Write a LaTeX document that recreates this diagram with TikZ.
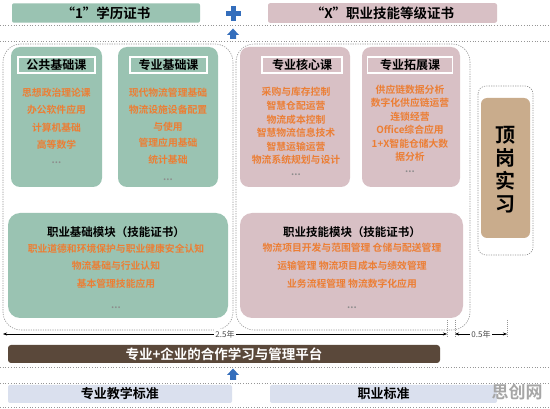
\documentclass[tikz,border=0pt]{standalone}
\usepackage{fontspec}
\setmainfont{Noto Sans CJK SC}
\newfontfamily\cjkb{Noto Sans CJK SC Bold}
\usetikzlibrary{arrows.meta}
\definecolor{sage}{RGB}{154,195,178}
\definecolor{rose}{RGB}{216,192,197}
\definecolor{tan}{RGB}{201,172,140}
\definecolor{brownbar}{RGB}{90,72,58}
\definecolor{paleblue}{RGB}{218,224,238}
\definecolor{orangetxt}{RGB}{236,126,52}
\definecolor{bluearr}{RGB}{52,110,188}
\definecolor{dotgray}{RGB}{150,150,150}
\tikzset{
  px/.style={x=1pt,y=-1pt},
  greenbox/.style={fill=sage, rounded corners=9pt, draw=none},
  pinkbox/.style={fill=rose, rounded corners=9pt, draw=none},
  topbar/.style={rounded corners=2pt, draw=none, font=\cjkb\fontsize{13.5}{14}\selectfont},
  hdr/.style={draw=white, line width=1.2pt, font=\cjkb\fontsize{12}{13}\selectfont, inner sep=0pt},
  crs/.style={text=orangetxt, font=\cjkb\fontsize{9.8}{10}\selectfont, inner sep=0pt},
  modtitle/.style={font=\cjkb\fontsize{11.5}{12}\selectfont, inner sep=0pt},
  dotline/.style={draw=dotgray, dotted, line width=0.7pt},
  region/.style={draw=dotgray, dashed, dash pattern=on 1.2pt off 1.2pt, line width=0.6pt, rounded corners=18pt},
  dimarrow/.style={{Stealth[length=4pt,width=3pt]}-{Stealth[length=4pt,width=3pt]}, line width=0.5pt},
  uparrow/.style={fill=bluearr, draw=none},
}
\begin{document}
\begin{tikzpicture}[px]
\useasboundingbox (0,0) rectangle (550,409);
\fill[white] (0,0) rectangle (550,409);

% top bars
\node[topbar, fill=sage, minimum width=188pt, minimum height=16pt] (one) at (106,13) {“1”学历证书};
\node[topbar, fill=rose, minimum width=229pt, minimum height=16pt] (xcert) at (382.5,13) {“X”职业技能等级证书};
\fill[bluearr] (230.5,6) rectangle (235.5,21);
\fill[bluearr] (225.5,11) rectangle (240.5,16);
\draw[dotline] (0,25) -- (550,25);
\fill[uparrow] (227,35) -- (233,28.5) -- (239,35) -- (236,35) -- (236,39) -- (230,39) -- (230,35) -- cycle;
\draw[dotline] (0,41) -- (550,41);

% dashed regions
\draw[region] (3,44) rectangle (233,330);
\draw[region] (236,44) rectangle (470,330);
\draw[region, rounded corners=8pt] (478,86) rectangle (533,255);

% course boxes
\fill[greenbox] (11,47) rectangle (102,187);
\fill[greenbox] (118,47) rectangle (218,187);
\fill[pinkbox] (240,47) rectangle (350,187);
\fill[pinkbox] (362,47) rectangle (460,187);

\node[hdr, minimum width=77pt, minimum height=16pt] (h1) at (56.5,65) {公共基础课};
\node[hdr, minimum width=77pt, minimum height=16pt] (h2) at (168.5,65) {专业基础课};
\node[hdr, minimum width=80pt, minimum height=16pt] (h3) at (302,65) {专业核心课};
\node[hdr, minimum width=85pt, minimum height=16pt] (h4) at (410,65) {专业拓展课};

\node[crs] (c11) at (56.5,93) {思想政治理论课};
\node[crs] (c12) at (56.5,110) {办公软件应用};
\node[crs] (c13) at (56.5,128) {计算机基础};
\node[crs] (c14) at (56.5,145) {高等数学};
\node[crs, text=black!45] (c15) at (56.5,163) {...};

\node[crs] (c21) at (168,93) {现代物流管理基础};
\node[crs] (c22) at (168,110) {物流设施设备配置};
\node[crs] (c23) at (168,127) {与使用};
\node[crs] (c24) at (168,143) {管理应用基础};
\node[crs] (c25) at (168,160) {统计基础};
\node[crs, text=black!45] (c26) at (168,180) {...};

\node[crs] (c31) at (296,92) {采购与库存控制};
\node[crs] (c32) at (296,106) {智慧仓配运营};
\node[crs] (c33) at (296,120) {物流成本控制};
\node[crs] (c34) at (296,133) {智慧物流信息技术};
\node[crs] (c35) at (296,147) {智慧运输运营};
\node[crs] (c36) at (296,160) {物流系统规划与设计};
\node[crs, text=black!45] (c37) at (296,175) {...};

\node[crs] (c41) at (410,90) {供应链数据分析};
\node[crs] (c42) at (410,103) {数字化供应链运营};
\node[crs] (c43) at (410,117) {连锁经营};
\node[crs] (c44) at (410,130) {Office综合应用};
\node[crs] (c45) at (410,144) {1+X智能仓储大数};
\node[crs] (c46) at (410,157) {据分析};
\node[crs, text=black!45] (c47) at (410,172) {...};

% modules
\fill[greenbox, rounded corners=12pt] (8,213) rectangle (228,318);
\fill[pinkbox, rounded corners=12pt] (240,213) rectangle (463,318);

\node[modtitle] (m1) at (116,232) {职业基础模块（技能证书）};
\node[crs] (m11) at (116,249) {职业道德和环境保护与职业健康安全认知};
\node[crs] (m12) at (116,266) {物流基础与行业认知};
\node[crs] (m13) at (116,284) {基本管理技能应用};
\node[crs, text=black!45] (m14) at (116,308) {...};

\node[modtitle] (m2) at (352,232) {职业技能模块（技能证书）};
\node[crs] (m21) at (352,248) {物流项目开发与范围管理 仓储与配送管理};
\node[crs] (m22) at (352,266) {运输管理 物流项目成本与绩效管理};
\node[crs] (m23) at (352,284) {业务流程管理 物流数字化应用};
\node[crs, text=black!45] (m24) at (352,308) {...};

% internship
\fill[tan, rounded corners=6pt] (481,98) rectangle (530,238);
\node[font=\cjkb\fontsize{20}{23}\selectfont, align=center, inner sep=0pt] (ding) at (505.5,170) {顶\\岗\\实\\习};

% dimensions
\draw[dotgray, dashed, dash pattern=on 1pt off 1pt] (447,320) -- (447,338);
\draw[dotgray, dashed, dash pattern=on 1pt off 1pt] (455,320) -- (455,338);
\draw[dotgray, dashed, dash pattern=on 1pt off 1pt] (507,320) -- (507,338);
\coordinate (d1) at (3,334);
\coordinate (d2) at (447,334);
\coordinate (d3) at (455,334);
\coordinate (d4) at (507,334);
\draw[dimarrow] (d1) -- (d2);
\draw[dimarrow] (d3) -- (d4);
\node[fill=white, font=\fontsize{8}{8}\selectfont, inner sep=1.5pt, text=black!70] (y1) at (225,334) {2.5年};
\node[fill=white, font=\fontsize{8}{8}\selectfont, inner sep=1.5pt, text=black!70] (y2) at (481,334) {0.5年};

% platform bar
\node[fill=brownbar, rounded corners=3pt, minimum width=432pt, minimum height=18pt, text=white, font=\cjkb\fontsize{13.5}{14}\selectfont, inner sep=0pt] (plat) at (224,354) {专业+企业的合作学习与管理平台};
\draw[dotline] (0,367) -- (550,367);
\fill[uparrow] (227,375) -- (233,368.5) -- (239,375) -- (236,375) -- (236,380) -- (230,380) -- (230,375) -- cycle;
\draw[dotline] (0,383) -- (550,383);

% standards
\node[fill=paleblue, rounded corners=2pt, minimum width=224pt, minimum height=18pt, font=\cjkb\fontsize{13}{14}\selectfont, inner sep=0pt] (s1) at (120,394) {专业教学标准};
\node[fill=paleblue, rounded corners=2pt, minimum width=227pt, minimum height=18pt, font=\cjkb\fontsize{13}{14}\selectfont, inner sep=0pt] (s2) at (383.5,394) {职业标准};
\draw[dotline] (0,407) -- (550,407);

\node[text=black!35, font=\cjkb\fontsize{17}{17}\selectfont, inner sep=0pt] (wm) at (517,392) {思创网};
\end{tikzpicture}
\end{document}
